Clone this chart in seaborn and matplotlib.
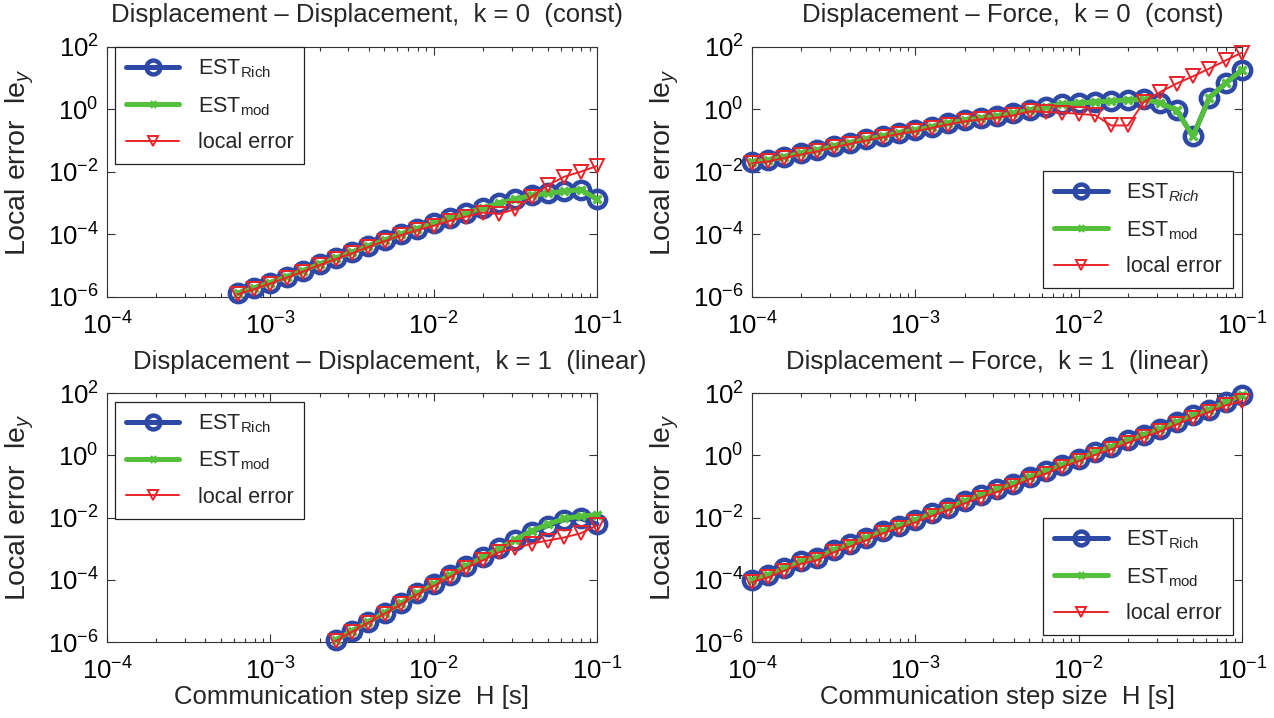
import matplotlib
matplotlib.use("Agg")
import matplotlib.pyplot as plt
import seaborn as sns
from matplotlib.ticker import FixedLocator, NullLocator, LogLocator, NullFormatter

# ---------------- data ----------------
H_tl = [6.31e-4, 7.94e-4, 1.00e-3, 1.26e-3, 1.58e-3, 2.00e-3, 2.51e-3, 3.16e-3,
        3.98e-3, 5.01e-3, 6.31e-3, 7.94e-3, 1.00e-2, 1.26e-2, 1.58e-2, 2.00e-2,
        2.51e-2, 3.16e-2, 3.98e-2, 5.01e-2, 6.31e-2, 7.94e-2, 1.00e-1]
rich_tl = [1.32e-6, 1.91e-6, 2.88e-6, 4.47e-6, 6.92e-6, 1.12e-5, 1.74e-5, 2.69e-5,
           4.27e-5, 6.61e-5, 1.02e-4, 1.55e-4, 2.29e-4, 3.39e-4, 4.90e-4, 7.08e-4,
           1.00e-3, 1.35e-3, 1.78e-3, 2.09e-3, 2.40e-3, 2.75e-3, 1.35e-3]
mod_tl = [1.32e-6, 1.91e-6, 2.88e-6, 4.47e-6, 6.92e-6, 1.12e-5, 1.74e-5, 2.69e-5,
          4.27e-5, 6.61e-5, 1.02e-4, 1.55e-4, 2.29e-4, 3.39e-4, 4.90e-4, 7.08e-4,
          1.00e-3, 1.35e-3, 1.78e-3, 2.09e-3, 2.40e-3, 2.75e-3, 1.35e-3]
loc_tl = [1.23e-6, 1.78e-6, 2.69e-6, 4.17e-6, 6.46e-6, 1.05e-5, 1.62e-5, 2.51e-5,
          3.98e-5, 6.17e-5, 9.55e-5, 1.38e-4, 1.91e-4, 2.75e-4, 3.72e-4, 5.01e-4,
          4.57e-4, 6.46e-4, 1.62e-3, 3.80e-3, 7.08e-3, 1.02e-2, 1.55e-2]

H_full = [1.00e-4, 1.26e-4, 1.58e-4, 2.00e-4, 2.51e-4, 3.16e-4, 3.98e-4, 5.01e-4,
          6.31e-4, 7.94e-4, 1.00e-3, 1.26e-3, 1.58e-3, 2.00e-3, 2.51e-3, 3.16e-3,
          3.98e-3, 5.01e-3, 6.31e-3, 7.94e-3, 1.00e-2, 1.26e-2, 1.58e-2, 2.00e-2,
          2.51e-2, 3.16e-2, 3.98e-2, 5.01e-2, 6.31e-2, 7.94e-2, 1.00e-1]
rich_tr = [2.14e-2, 2.40e-2, 3.09e-2, 3.98e-2, 5.01e-2, 6.76e-2, 8.71e-2, 0.112,
           0.141, 0.182, 0.219, 0.282, 0.363, 0.457, 0.525, 0.617, 0.759, 0.955,
           1.23, 1.48, 1.62, 1.74, 1.86, 2.04, 2.09, 1.62, 0.955, 0.138, 2.40,
           6.92, 18.6]
mod_tr = [2.14e-2, 2.40e-2, 3.09e-2, 3.98e-2, 5.01e-2, 6.76e-2, 8.71e-2, 0.112,
          0.141, 0.182, 0.219, 0.282, 0.363, 0.457, 0.525, 0.617, 0.759, 0.955,
          1.23, 1.48, 1.62, 1.74, 1.86, 2.04, 2.09, 1.62, 0.955, 0.138, 2.40,
          6.92, 18.6]
loc_tr = [1.91e-2, 2.19e-2, 2.82e-2, 3.63e-2, 4.57e-2, 6.17e-2, 7.94e-2, 0.102,
          0.129, 0.166, 0.200, 0.257, 0.331, 0.417, 0.479, 0.550, 0.646, 0.871,
          0.832, 0.794, 0.724, 0.661, 0.309, 0.309, 1.74, 3.63, 6.76, 11.5,
          20.4, 37.2, 66.1]

H_bl = [2.51e-3, 3.16e-3, 3.98e-3, 5.01e-3, 6.31e-3, 7.94e-3, 1.00e-2, 1.26e-2,
        1.58e-2, 2.00e-2, 2.51e-2, 3.16e-2, 3.98e-2, 5.01e-2, 6.31e-2, 7.94e-2,
        1.00e-1]
rich_bl = [1.15e-6, 2.29e-6, 4.47e-6, 8.71e-6, 1.74e-5, 3.63e-5, 7.08e-5, 1.41e-4,
           2.75e-4, 5.25e-4, 1.02e-3, 1.95e-3, 3.47e-3, 5.50e-3, 8.51e-3, 9.33e-3,
           6.17e-3]
mod_bl = [1.15e-6, 2.29e-6, 4.47e-6, 8.71e-6, 1.74e-5, 3.63e-5, 7.08e-5, 1.41e-4,
          2.75e-4, 5.25e-4, 1.02e-3, 1.95e-3, 3.72e-3, 6.03e-3, 9.33e-3, 1.10e-2,
          1.23e-2]
loc_bl = [1.07e-6, 2.14e-6, 4.17e-6, 8.13e-6, 1.62e-5, 3.39e-5, 6.31e-5, 1.23e-4,
          2.40e-4, 4.17e-4, 7.59e-4, 1.02e-3, 1.45e-3, 1.82e-3, 2.29e-3, 3.09e-3,
          5.62e-3]

rich_br = [1.00e-4, 1.45e-4, 2.34e-4, 3.89e-4, 5.13e-4, 9.12e-4, 1.41e-3, 2.24e-3,
           3.72e-3, 5.50e-3, 8.32e-3, 1.35e-2, 2.04e-2, 3.39e-2, 5.25e-2, 7.94e-2,
           0.123, 0.204, 0.309, 0.501, 0.776, 1.23, 1.86, 3.02, 4.57, 7.08, 11.7,
           19.1, 29.5, 51.3, 87.1]
mod_br = [1.00e-4, 1.45e-4, 2.34e-4, 3.89e-4, 5.13e-4, 9.12e-4, 1.41e-3, 2.24e-3,
          3.72e-3, 5.50e-3, 8.32e-3, 1.35e-2, 2.04e-2, 3.39e-2, 5.25e-2, 7.94e-2,
          0.123, 0.204, 0.309, 0.501, 0.776, 1.23, 1.86, 3.02, 4.57, 7.08, 11.7,
          19.1, 29.5, 51.3, 87.1]
loc_br = [8.32e-5, 1.20e-4, 1.95e-4, 3.24e-4, 4.27e-4, 7.59e-4, 1.17e-3, 1.86e-3,
          3.09e-3, 4.57e-3, 6.92e-3, 1.12e-2, 1.70e-2, 2.82e-2, 4.37e-2, 6.61e-2,
          0.102, 0.170, 0.257, 0.417, 0.646, 1.02, 1.55, 2.51, 3.80, 5.89, 9.77,
          15.8, 24.5, 39.8, 55.0]

titles = ["Displacement \u2013 Displacement,  k = 0  (const)",
          "Displacement \u2013 Force,  k = 0  (const)",
          "Displacement \u2013 Displacement,  k = 1  (linear)",
          "Displacement \u2013 Force,  k = 1  (linear)"]
x_ticks = [1e-4, 1e-3, 1e-2, 1e-1]
x_ticklabels = ["$10^{-4}$", "$10^{-3}$", "$10^{-2}$", "$10^{-1}$"]
y_ticks = [1e-6, 1e-4, 1e-2, 1e0, 1e2]
y_ticklabels = ["$10^{-6}$", "$10^{-4}$", "$10^{-2}$", "$10^{0}$", "$10^{2}$"]
ylabel = "Local error  le$_y$"
xlabel = "Communication step size  H [s]"

# ---------------- style ----------------
sns.set_theme(style="white")
FONT = ["Liberation Sans", "DejaVu Sans"]
plt.rcParams["font.family"] = FONT
plt.rcParams["mathtext.fontset"] = "custom"
plt.rcParams["mathtext.rm"] = "Liberation Sans"
plt.rcParams["mathtext.it"] = "Liberation Sans:italic"
plt.rcParams["mathtext.bf"] = "Liberation Sans:bold"
plt.rcParams["mathtext.sf"] = "Liberation Sans"

BLUE = "#2e48a6"
GREEN = "#55c03c"
RED = "#e8232a"

fig = plt.figure(figsize=(12.74, 7.18), dpi=100)
W, Hh = 1274, 718
def box(x0, y0, x1, y1):
    return [x0 / W, 1 - y1 / Hh, (x1 - x0) / W, (y1 - y0) / Hh]

axes = [fig.add_axes(box(107, 47, 597, 297)),
        fig.add_axes(box(752, 47, 1242, 297)),
        fig.add_axes(box(107, 393, 597, 642)),
        fig.add_axes(box(752, 393, 1242, 642))]

panels = [
    (H_tl, rich_tl, mod_tl, loc_tl, "EST$_{\\mathrm{Rich}}$", "upper left", (0.016, 1.0)),
    (H_full, rich_tr, mod_tr, loc_tr, "EST$_{Rich}$", "lower right", (0.981, 0.036)),
    (H_bl, rich_bl, mod_bl, loc_bl, "EST$_{\\mathrm{Rich}}$", "upper left", (0.016, 0.965)),
    (H_full, rich_br, mod_br, loc_br, "EST$_{\\mathrm{Rich}}$", "lower right", (0.981, 0.028)),
]
title_pos = [(0.531, 1.128), (0.533, 1.128), (0.578, 1.125), (0.502, 1.125)]

for i, (ax, (H, rich, mod, loc, rich_lab, lloc, anchor)) in enumerate(zip(axes, panels)):
    sns.lineplot(x=H, y=rich, ax=ax, color=BLUE, linewidth=3.6, marker="o",
                 markersize=12.5, markerfacecolor="none", markeredgecolor=BLUE,
                 markeredgewidth=3.2, label=rich_lab, estimator=None, sort=False,
                 clip_on=False, zorder=3)
    sns.lineplot(x=H, y=mod, ax=ax, color=GREEN, linewidth=3.6, marker="x",
                 markersize=6, markeredgecolor=GREEN, markeredgewidth=2.5,
                 label="EST$_{\\mathrm{mod}}$", estimator=None, sort=False,
                 clip_on=False, zorder=4)
    sns.lineplot(x=H, y=loc, ax=ax, color=RED, linewidth=1.4, marker="v",
                 markersize=9.5, markerfacecolor="none", markeredgecolor=RED,
                 markeredgewidth=1.4, label="local error", estimator=None,
                 sort=False, clip_on=False, zorder=5)
    ax.set_xscale("log")
    ax.set_yscale("log")
    ax.set_xlim(1e-4, 1e-1)
    ax.set_ylim(1e-6, 1e2)
    ax.xaxis.set_major_locator(FixedLocator(x_ticks))
    ax.set_xticklabels(x_ticklabels)
    ax.xaxis.set_minor_locator(LogLocator(base=10, subs=range(2, 10)))
    ax.xaxis.set_minor_formatter(NullFormatter())
    ax.yaxis.set_major_locator(FixedLocator(y_ticks))
    ax.set_yticklabels(y_ticklabels)
    ax.yaxis.set_minor_locator(NullLocator())
    ax.tick_params(which="both", direction="in", top=True, right=True,
                   bottom=True, left=True, colors="#333333", labelcolor="black",
                   width=0.8)
    ax.tick_params(which="major", length=6, labelsize=18.5)
    ax.tick_params(which="minor", length=3)
    ax.tick_params(axis="x", pad=11)
    ax.tick_params(axis="y", pad=6)
    for s in ax.spines.values():
        s.set_visible(True)
        s.set_color("#333333")
        s.set_linewidth(0.8)
    ax.set_xlabel("")
    ax.set_ylabel("")
    ax.set_facecolor("white")
    ax.text(title_pos[i][0], title_pos[i][1], titles[i], transform=ax.transAxes,
            ha="center", va="center", fontsize=18.5)
    ax.text(-0.178, 0.54, ylabel, transform=ax.transAxes, rotation=90,
            ha="center", va="center", fontsize=20.5)
    if i >= 2:
        ax.text(0.5, -0.222, xlabel, transform=ax.transAxes, ha="center",
                va="center", fontsize=18.5)
    leg = ax.legend(loc=lloc, bbox_to_anchor=anchor, frameon=True, fancybox=False,
                    edgecolor="#222222", framealpha=1, fontsize=15.5,
                    handlelength=2.5, markerscale=0.8, borderpad=0.5,
                    labelspacing=0.68, handletextpad=0.85, borderaxespad=0.0)
    leg.get_frame().set_linewidth(0.9)

fig.savefig("out.png", dpi=100, facecolor="white")
